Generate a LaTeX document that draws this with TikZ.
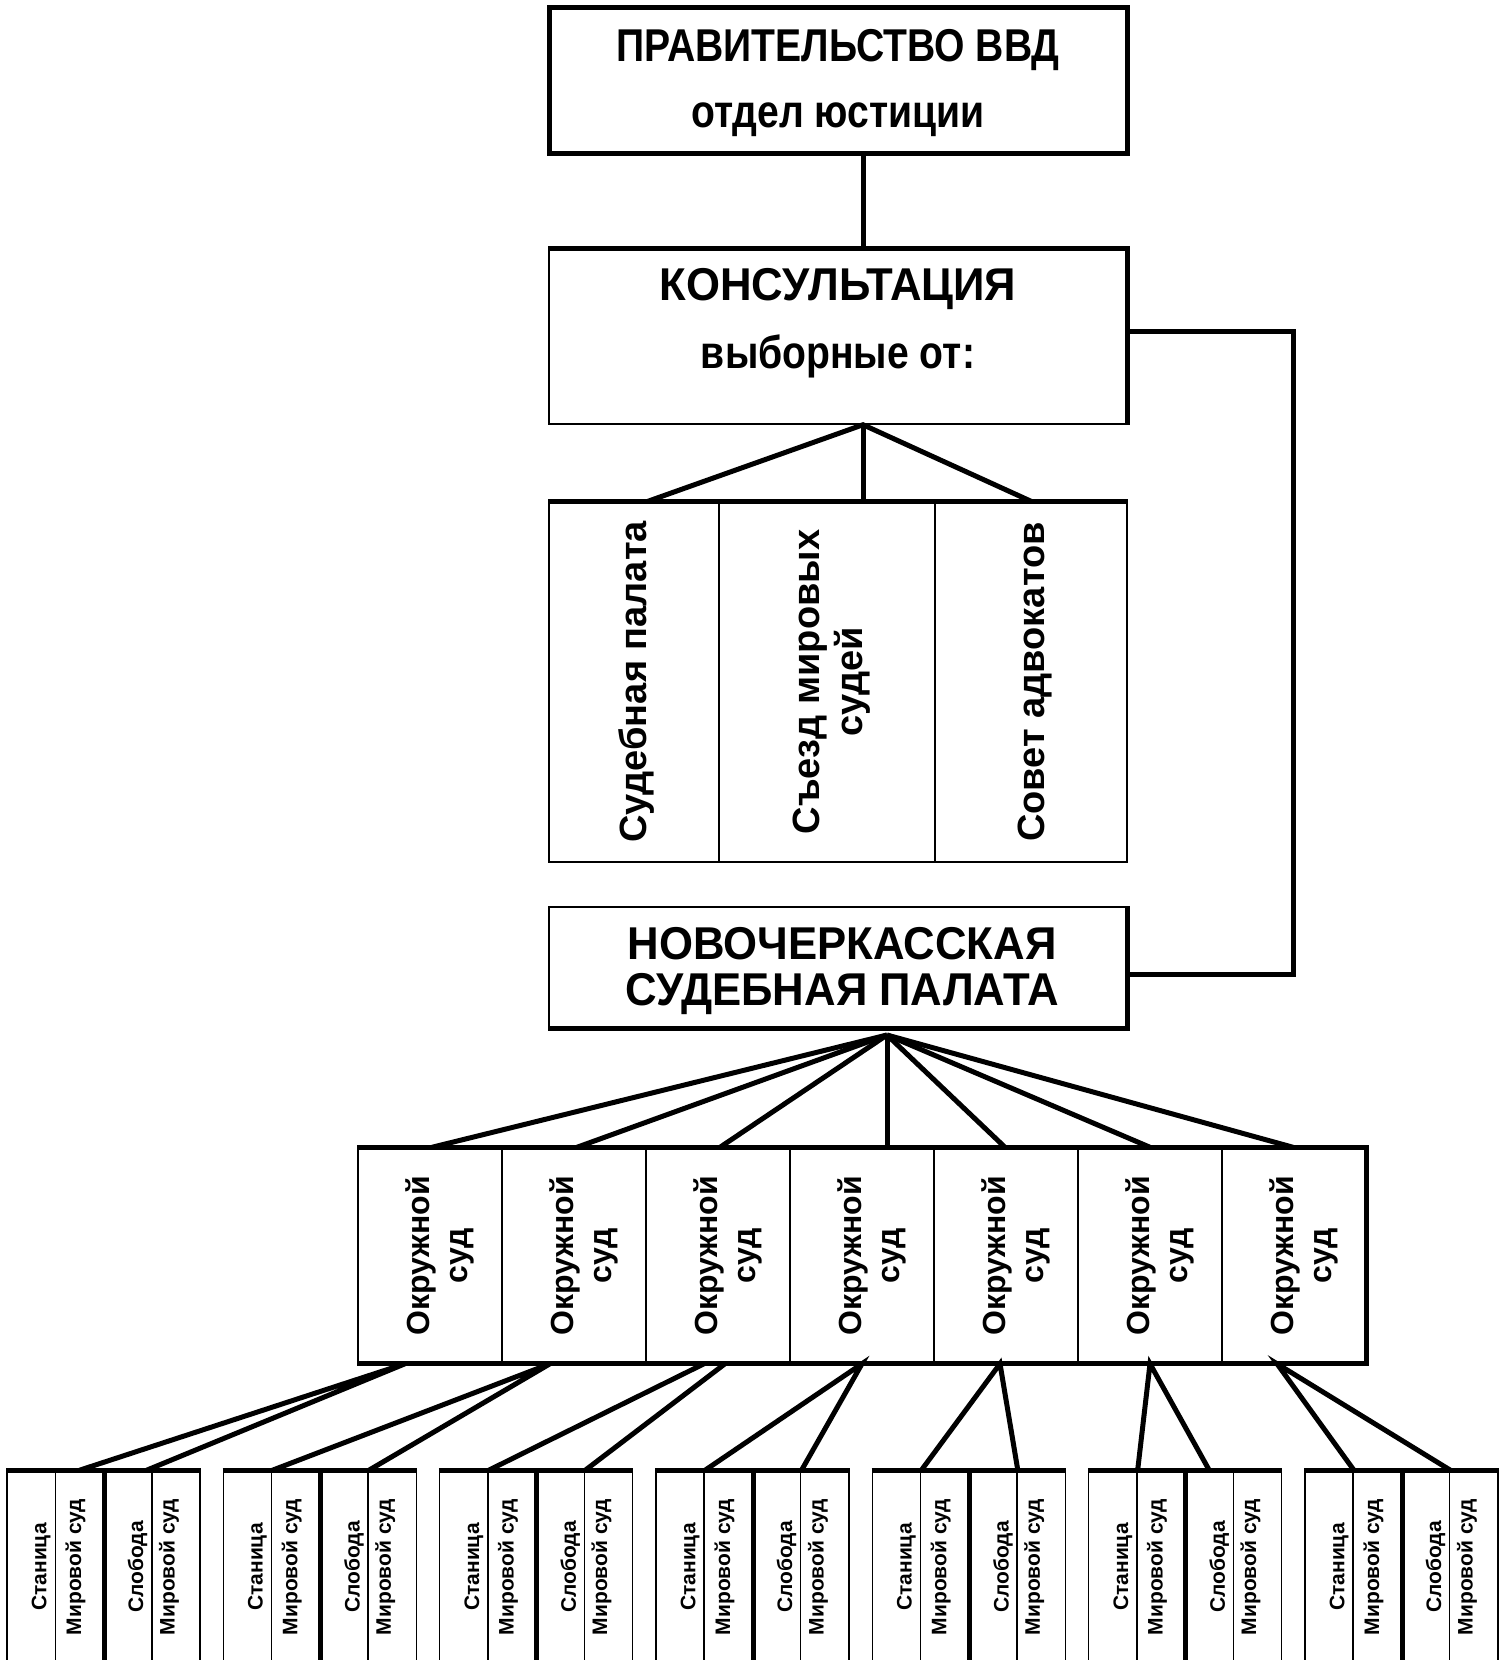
\documentclass[tikz,border=0pt]{standalone}
\usepackage{fontspec}
\setmainfont{Liberation Sans}
\newfontfamily\headfont{Liberation Sans}[FakeStretch=0.85]
\newfontfamily\wideheadfont{Liberation Sans}[FakeStretch=0.95]

\tikzset{
  cellbox/.style={draw, line width=1.5pt, inner sep=0pt},
  thickline/.style={line width=5pt},
  headtext/.style={font=\headfont\bfseries\fontsize{46}{48}\selectfont, inner sep=0pt},
  wideheadtext/.style={font=\wideheadfont\bfseries\fontsize{46}{46}\selectfont, inner sep=0pt},
  uptext/.style={rotate=90, inner sep=0pt, align=center,
    font=\bfseries\fontsize{38}{43}\selectfont},
  courttext/.style={rotate=90, inner sep=0pt, align=center,
    font=\bfseries\fontsize{32}{38}\selectfont},
  smalltext/.style={rotate=90, inner sep=0pt,
    font=\bfseries\fontsize{21}{24}\selectfont},
}

\begin{document}
\begin{tikzpicture}[x=1pt,y=-1pt]
\fill [white] (0,0) rectangle (1504,1660);
\useasboundingbox (0,0) rectangle (1504,1660);

% Government
\node [cellbox,
    line width=5pt,
    minimum width=578,
    minimum height=146] (gov) at (838,80) {};
\node [headtext, anchor=base] (govtitle) at (838,61) {ПРАВИТЕЛЬСТВО ВВД};
\node [headtext, anchor=base] (govdept) at (838,127) {отдел юстиции};

% Consultation
\node [cellbox,
    minimum width=578,
    minimum height=175] (kons) at (838,336.5) {};
\draw [thickline] (kons.north west) -- (kons.north east) -- (kons.south east);
\node [wideheadtext, anchor=base] (konstitle) at (838,300) {КОНСУЛЬТАЦИЯ};
\node [headtext, anchor=base] (konssub) at (838,368) {выборные от:};

% Elected from
\node [cellbox, minimum width=170, minimum height=360] (pal) at (634,682) {};
\node [cellbox, minimum width=216, minimum height=360] (sjezd) at (827,682) {};
\node [cellbox, minimum width=192, minimum height=360] (sovet) at (1031,682) {};
\draw [thickline] (pal.north west) -- (sovet.north east);
\node [uptext] (paltext) at ([xshift=3pt]pal.center) {Судебная палата};
\node [uptext] (sjezdtext) at ([xshift=5pt]sjezd.center) {Съезд мировых\\судей};
\node [uptext] (sovettext) at ([xshift=4pt]sovet.center) {Совет адвокатов};

% Novocherkassk chamber
\node [cellbox,
    minimum width=578,
    minimum height=121] (novo) at (838,967.5) {};
\node [wideheadtext, align=center] (novotext) at ([xshift=4pt,yshift=-4pt]novo.center)
  {НОВОЧЕРКАССКАЯ\\СУДЕБНАЯ ПАЛАТА};
\draw [thickline] (novo.north east) -- (novo.south east) -- (novo.south west);

% Connectors at the top
\coordinate (kapex) at ([xshift=25pt]kons.south);
\draw [thickline] ([xshift=25pt]gov.south) -- ([xshift=25pt]kons.north);
\draw [thickline] ([xshift=14pt]pal.north) -- (kapex) -- (sovet.north);
\draw [thickline] (kapex) -- ([xshift=36pt]sjezd.north);
\draw [thickline] ([yshift=5.5pt]kons.east) -- ++(166,0) |- ([yshift=-6.5pt]novo.east);

% District courts
\foreach \k in {1,...,7}
  \node [cellbox, minimum width=144, minimum height=215] (ok\k) at ({286+144*\k},1255.5) {};
\foreach \k in {1,...,7}
  \node [courttext] (okt\k) at ([xshift=10pt]ok\k.center) {Окружной\\суд};
\draw [thickline] (ok1.north west) -- (ok7.north east) -- (ok7.south east) -- (ok1.south west);

\coordinate (napex) at (887,1035);
\foreach \k/\dx in {1/2,2/3,3/2,4/25,5/-1,6/0,7/-1}
  \draw [thickline] (napex) -- ([xshift=\dx pt]ok\k.north);

% Local courts
\foreach \g in {1,...,7} {
  \pgfmathsetmacro\gx{7+216.33*(\g-1)}
  \node [cellbox, minimum width=48.25, minimum height=199] (st\g) at ({\gx+24.125},1570.5) {};
  \node [cellbox, minimum width=48.25, minimum height=199] (msa\g) at ({\gx+72.375},1570.5) {};
  \node [cellbox, minimum width=48.25, minimum height=199] (sl\g) at ({\gx+120.625},1570.5) {};
  \node [cellbox, minimum width=48.25, minimum height=199] (msb\g) at ({\gx+168.875},1570.5) {};
  \draw [thickline] (st\g.north west) -- (msb\g.north east);
  \draw [thickline] (msa\g.north east) -- (msa\g.south east);
  \node [smalltext] (stt\g) at ([xshift=10pt,yshift=3.5pt]st\g.center) {Станица};
  \node [smalltext] (msat\g) at ([xshift=-4pt,yshift=3.5pt]msa\g.center) {Мировой суд};
  \node [smalltext] (slt\g) at ([xshift=10pt,yshift=3.5pt]sl\g.center) {Слобода};
  \node [smalltext] (msbt\g) at ([xshift=-7pt,yshift=3.5pt]msb\g.center) {Мировой суд};
}

% District to local
\draw [thickline] (msa1.north) -- ([xshift=-25pt]ok1.south) -- ([xshift=-6pt]sl1.north east);
\draw [thickline] (st2.north east) -- ([xshift=-24pt]ok2.south) -- (sl2.north east);
\draw [thickline] (st3.north east) -- ([xshift=-14pt]ok3.south);
\draw [thickline] (sl3.north east) -- ([xshift=7pt]ok3.south);
\draw [thickline] (st4.north east) -- (ok4.south) -- (sl4.north east);
\draw [thickline] (st5.north east) -- ([xshift=-6pt]ok5.south) -- (sl5.north east);
\draw [thickline] (st6.north east) -- (ok6.south) -- (sl6.north);
\draw [thickline] (st7.north east) -- ([xshift=-17pt]ok7.south) -- (sl7.north east);

\end{tikzpicture}
\end{document}
